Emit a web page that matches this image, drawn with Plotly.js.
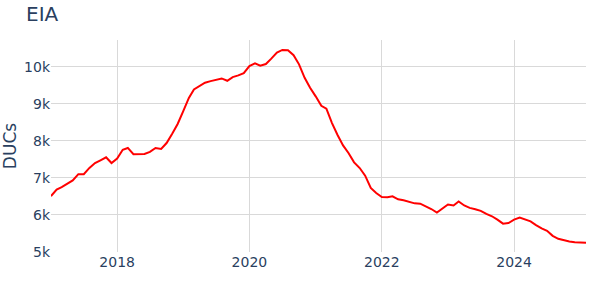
<!DOCTYPE html>
<html>
<head>
<meta charset="utf-8">
<script src="https://cdn.plot.ly/plotly-3.0.1.min.js"></script>
<style>html,body{margin:0;padding:0;background:#fff;}#chart{width:593px;height:295px;}</style>
</head>
<body>
<div id="chart"></div>
<script>
const startMonth = "2017-01";
const ducs = [
  6507, 6686, 6750, 6840, 6930, 7100, 7100, 7270, 7400, 7475, 7556, 7400,
  7520, 7760, 7807, 7637, 7637, 7646, 7700, 7807, 7780, 7940, 8193, 8453,
  8800, 9158, 9385, 9475, 9566, 9611, 9647, 9683, 9620, 9720, 9765, 9828,
  10018, 10090, 10027, 10072, 10217, 10380, 10452, 10443, 10308, 10063, 9701, 9430,
  9200, 8946, 8865, 8479, 8164, 7877, 7670, 7419, 7266, 7059, 6727, 6592,
  6484, 6475, 6502, 6421, 6394, 6358, 6313, 6304, 6232, 6160, 6062, 6160,
  6280, 6255, 6364, 6255, 6191, 6155, 6109, 6027, 5964, 5873, 5764, 5782,
  5873, 5927, 5873, 5827, 5727, 5636, 5573, 5436, 5355, 5309, 5282, 5264,
  5255, 5250
];
const dates = ducs.map((_, i) => {
  const y0 = parseInt(startMonth.slice(0, 4)), m0 = parseInt(startMonth.slice(5)) - 1;
  const t = m0 + i;
  const y = y0 + Math.floor(t / 12), m = (t % 12) + 1;
  return y + "-" + String(m).padStart(2, "0") + "-01";
});
const yTickVals = [5000, 6000, 7000, 8000, 9000, 10000];
const yTickText = ["5k", "6k", "7k", "8k", "9k", "10k"];
const xTickVals = ["2018-01-01", "2020-01-01", "2022-01-01", "2024-01-01"];
const xTickText = ["2018", "2020", "2022", "2024"];

const fontColor = "#2a3f5f";
const fam = "Verdana, 'DejaVu Sans', sans-serif";
Plotly.newPlot("chart", [{
  x: dates, y: ducs, type: "scatter", mode: "lines",
  line: {color: "#ff0000", width: 2}, showlegend: false
}], {
  width: 593, height: 295,
  margin: {l: 51, r: 7, t: 40, b: 43},
  paper_bgcolor: "#fff", plot_bgcolor: "#fff",
  font: {family: fam, color: fontColor, size: 14},
  title: {text: "EIA", x: 0.044, xanchor: "left", y: 0.953, yanchor: "middle", yref: "container",
          font: {family: fam, size: 20, color: fontColor}},
  xaxis: {type: "date", range: ["2017-01-01", "2025-02-01"], tickvals: xTickVals, ticktext: xTickText,
          showgrid: true, gridcolor: "#d9d9d9", gridwidth: 1, zeroline: false, showline: false, ticks: "",
          tickfont: {family: fam, size: 14, color: fontColor}},
  yaxis: {range: [5000, 10720], tickvals: yTickVals, ticktext: yTickText,
          showgrid: true, gridcolor: "#d9d9d9", gridwidth: 1, zeroline: false, showline: false, ticks: "",
          tickfont: {family: fam, size: 14, color: fontColor},
          title: {text: "DUCs", font: {family: fam, size: 17, color: fontColor}, standoff: 6}}
}, {displayModeBar: false, staticPlot: true});
</script>
</body>
</html>
